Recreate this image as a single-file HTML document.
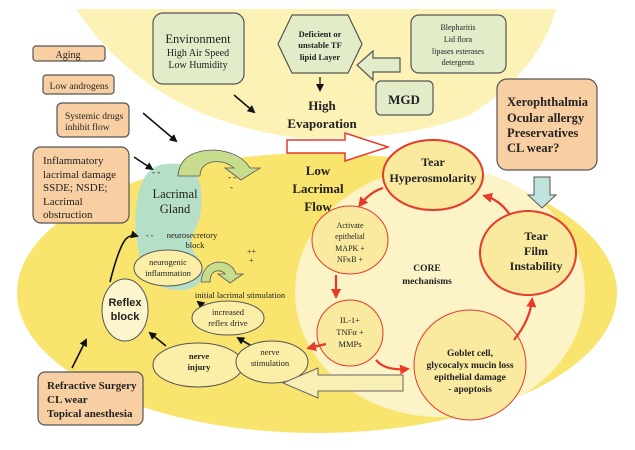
<!DOCTYPE html>
<html><head><meta charset="utf-8"><style>
body{margin:0;background:#fff}
svg{display:block}
text{font-family:"Liberation Serif",serif;fill:#222}
.b{font-weight:bold}
</style></head><body>
<svg width="635" height="450" viewBox="0 0 635 450" xmlns="http://www.w3.org/2000/svg">
<defs>
<marker id="ab" markerWidth="8" markerHeight="8" refX="6" refY="4" orient="auto" markerUnits="userSpaceOnUse"><path d="M0,0 L8,4 L0,8 z" fill="#111"/></marker>
<marker id="ar" markerWidth="10" markerHeight="10" refX="7" refY="5" orient="auto" markerUnits="userSpaceOnUse"><path d="M0,0 L10,5 L0,10 z" fill="#e83a2a"/></marker>
</defs>
<!-- top pale ellipse -->
<path d="M76,9 Q150,120 300,138 Q400,142 470,115 Q540,70 556,9 Z" fill="#fcf2b6"/>
<!-- bottom ellipse -->
<ellipse cx="317" cy="293" rx="300" ry="140" fill="#f9e46e"/>
<ellipse cx="440" cy="292" rx="145" ry="125" fill="#fcf3c6"/>
<!-- lacrimal gland -->
<path d="M160,165 Q195,158 200,185 Q205,210 195,230 Q185,245 200,260 Q210,285 185,290 Q150,292 142,265 Q132,230 137,200 Q142,170 160,165 Z" fill="#b5dfc6"/>
<!-- left boxes -->
<g stroke="#555" stroke-width="1.2" fill="#f8cfa2">
<rect x="33" y="46" width="72" height="15" rx="3"/>
<rect x="43" y="75" width="71" height="19" rx="3"/>
<rect x="57" y="103" width="72" height="34" rx="5"/>
<rect x="33" y="147" width="96" height="76" rx="8"/>
<rect x="38" y="372" width="105" height="53" rx="7"/>
<rect x="497" y="79" width="100" height="91" rx="10"/>
</g>
<text x="68" y="58" font-size="10" text-anchor="middle">Aging</text>
<text x="79" y="89" font-size="9.5" text-anchor="middle">Low androgens</text>
<text x="65" y="119" font-size="9.5">Systemic drugs</text>
<text x="65" y="130" font-size="9.5">inhibit flow</text>
<text font-size="11"><tspan x="43" y="164">Inflammatory</tspan><tspan x="43" y="178">lacrimal damage</tspan><tspan x="43" y="191">SSDE; NSDE;</tspan><tspan x="43" y="205">Lacrimal</tspan><tspan x="43" y="218">obstruction</tspan></text>
<text class="b" font-size="11"><tspan x="47" y="389">Refractive Surgery</tspan><tspan x="47" y="403">CL wear</tspan><tspan x="47" y="417">Topical anesthesia</tspan></text>
<text class="b" font-size="12.5"><tspan x="507" y="106">Xerophthalmia</tspan><tspan x="507" y="122">Ocular allergy</tspan><tspan x="507" y="137">Preservatives</tspan><tspan x="507" y="152">CL wear?</tspan></text>
<!-- top green boxes -->
<g stroke="#555" stroke-width="1.2" fill="#e2ecc9">
<rect x="153" y="13" width="91" height="71" rx="10"/>
<rect x="411" y="15" width="95" height="58" rx="8"/>
<rect x="376" y="81" width="57" height="34" rx="5"/>
<path d="M278,44 L292,15 L348,15 L362,44 L348,73 L292,73 Z"/>
<path d="M400,58 L373,58 L373,51 L357,65 L373,80 L373,72 L400,72 Z"/>
</g>
<text x="198" y="43" font-size="12.5" text-anchor="middle">Environment</text>
<text x="198" y="56" font-size="10" text-anchor="middle">High Air Speed</text>
<text x="198" y="68" font-size="10" text-anchor="middle">Low Humidity</text>
<text class="b" font-size="8.5" text-anchor="middle"><tspan x="320" y="37">Deficient or</tspan><tspan x="320" y="48">unstable TF</tspan><tspan x="320" y="60">lipid Layer</tspan></text>
<text font-size="8" text-anchor="middle" fill="#333"><tspan x="458" y="30">Blepharitis</tspan><tspan x="458" y="42">Lid flora</tspan><tspan x="458" y="54">lipases esterases</tspan><tspan x="458" y="65">detergents</tspan></text>
<text class="b" x="404" y="104" font-size="13" text-anchor="middle">MGD</text>
<line x1="320" y1="77" x2="320" y2="90" stroke="#111" stroke-width="1.2" marker-end="url(#ab)"/>
<text class="b" x="322" y="110" font-size="13" text-anchor="middle">High</text>
<text class="b" x="322" y="128" font-size="13" text-anchor="middle">Evaporation</text>
<!-- red hollow arrow -->
<path d="M287,140 L345,140 L345,133 L388,147 L345,161 L345,153 L287,153 Z" fill="#fff" stroke="#e83a2a" stroke-width="1.5"/>
<text class="b" font-size="13" text-anchor="middle"><tspan x="318" y="175">Low</tspan><tspan x="318" y="193">Lacrimal</tspan><tspan x="318" y="211">Flow</tspan></text>
<!-- blue arrow -->
<path d="M534,177 L550,177 L550,195 L556,195 L542,208 L528,195 L534,195 Z" fill="#bfe3dc" stroke="#555"/>
<!-- black arrows -->
<g stroke="#111" stroke-width="1.6" marker-end="url(#ab)" fill="none">
<line x1="234" y1="95" x2="254" y2="112"/>
<line x1="143" y1="113" x2="176" y2="141"/>
<line x1="134" y1="157" x2="152" y2="169"/>
<line x1="72" y1="368" x2="86" y2="340"/>
<path d="M110,282 Q118,250 125,240 Q130,234 137,236"/>
<line x1="166" y1="346" x2="150" y2="333"/>
<line x1="250" y1="345" x2="238" y2="338"/>
<line x1="206" y1="308" x2="198" y2="302"/>
</g>
<!-- curved green arrows -->
<path d="M178,176 Q180,150 215,150 Q240,152 250,168 L260,168 L241,180 L225,168 L234,168 Q225,160 212,162 Q200,165 200,176 Z" fill="#c7dc8d" stroke="#555" stroke-width="0.8"/>
<path d="M201,282 Q203,264 218,262 Q232,262 236,274 L243,274 L230,283 L218,274 L225,274 Q222,270 216,271 Q210,273 210,282 Z" fill="#c7dc8d" stroke="#555" stroke-width="0.8"/>
<text x="175" y="198" font-size="12.5" text-anchor="middle">Lacrimal</text>
<text x="175" y="213" font-size="12.5" text-anchor="middle">Gland</text>
<text x="152" y="175" font-size="9" fill="#4a9a7a">- -</text>
<text x="228" y="180" font-size="9" fill="#666">- -</text>
<text x="230" y="190" font-size="9" fill="#666">-</text>
<text x="146" y="238" font-size="8" fill="#4a9a7a">- -</text>
<text x="192" y="238" font-size="8.5" text-anchor="middle" fill="#444">neurosecretory</text>
<text x="195" y="248" font-size="8.5" text-anchor="middle" fill="#444">block</text>
<text x="247" y="254" font-size="8" fill="#888">++</text>
<text x="249" y="263" font-size="8" fill="#888">+</text>
<!-- nerve ellipses -->
<g stroke="#555" stroke-width="1" fill="#fbeea6">
<ellipse cx="168" cy="268" rx="34" ry="18"/>
<ellipse cx="228" cy="318" rx="36" ry="17"/>
<ellipse cx="198" cy="365" rx="45" ry="22"/>
<ellipse cx="272" cy="362" rx="36" ry="21"/>
<ellipse cx="125" cy="310" rx="23" ry="31" fill="#fcf5cd"/>
</g>
<text font-size="8.5" text-anchor="middle" fill="#333"><tspan x="168" y="265">neurogenic</tspan><tspan x="168" y="276">inflammation</tspan></text>
<text x="240" y="298" font-size="8.5" text-anchor="middle" fill="#333">initial lacrimal stimulation</text>
<text font-size="8.5" text-anchor="middle" fill="#333"><tspan x="228" y="315">increased</tspan><tspan x="228" y="326">reflex drive</tspan></text>
<text class="b" font-size="8.5" text-anchor="middle"><tspan x="199" y="359">nerve</tspan><tspan x="199" y="370">injury</tspan></text>
<text font-size="8.5" text-anchor="middle" fill="#333"><tspan x="270" y="355">nerve</tspan><tspan x="270" y="366">stimulation</tspan></text>
<text font-size="11" font-weight="bold" text-anchor="middle" style="font-family:'Liberation Sans',sans-serif"><tspan x="125" y="306">Reflex</tspan><tspan x="125" y="320">block</tspan></text>
<!-- big hollow left arrow -->
<path d="M403,375 L318,375 L318,368 L283,383 L318,398 L318,391 L403,391 Z" fill="#f8efb4" stroke="#666"/>
<!-- core ellipses -->
<g stroke="#e83a2a" fill="#faeaa0">
<ellipse cx="433" cy="175" rx="50" ry="35" stroke-width="2"/>
<ellipse cx="528" cy="253" rx="48" ry="42" stroke-width="2"/>
<ellipse cx="350" cy="240" rx="38" ry="34" stroke-width="1"/>
<ellipse cx="350" cy="333" rx="33" ry="33" stroke-width="1"/>
<ellipse cx="470" cy="365" rx="56" ry="55" stroke-width="1"/>
</g>
<text class="b" font-size="12" text-anchor="middle"><tspan x="433" y="166">Tear</tspan><tspan x="433" y="182">Hyperosmolarity</tspan></text>
<text class="b" font-size="12" text-anchor="middle"><tspan x="536" y="240">Tear</tspan><tspan x="536" y="255">Film</tspan><tspan x="536" y="270">Instability</tspan></text>
<text font-size="8" text-anchor="middle" fill="#333"><tspan x="350" y="228">Activate</tspan><tspan x="350" y="239">epithelial</tspan><tspan x="350" y="251">MAPK +</tspan><tspan x="350" y="262">NFκB +</tspan></text>
<text font-size="8.5" text-anchor="middle" fill="#333"><tspan x="350" y="323">IL-1+</tspan><tspan x="350" y="335">TNFα +</tspan><tspan x="350" y="347">MMPs</tspan></text>
<text class="b" font-size="9.5" text-anchor="middle"><tspan x="470" y="356">Goblet cell,</tspan><tspan x="470" y="368">glycocalyx mucin loss</tspan><tspan x="470" y="380">epithelial damage</tspan><tspan x="470" y="392">- apoptosis</tspan></text>
<text class="b" font-size="9.5" text-anchor="middle"><tspan x="427" y="271">CORE</tspan><tspan x="427" y="284">mechanisms</tspan></text>
<!-- red arrows -->
<g stroke="#e83a2a" stroke-width="2.2" fill="none" marker-end="url(#ar)">
<path d="M383,188 Q370,192 360,205"/>
<line x1="336" y1="275" x2="336" y2="296"/>
<line x1="326" y1="344" x2="309" y2="348"/>
<path d="M376,360 Q385,371 407,369"/>
<path d="M514,340 Q530,320 532,300"/>
<path d="M510,215 Q500,200 485,196"/>
</g>
</svg>
</body></html>
